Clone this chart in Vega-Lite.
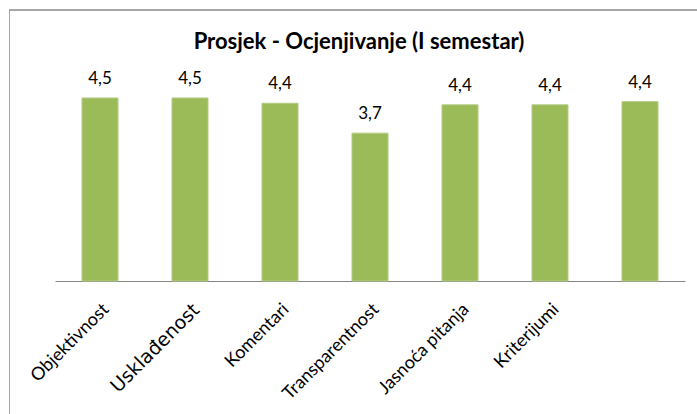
{
  "$schema": "https://vega.github.io/schema/vega-lite/v6.json",
  "width": 688,
  "height": 404,
  "autosize": {"type": "none"},
  "padding": {"left": 9, "top": 10, "right": 0, "bottom": 0},
  "background": "white",
  "config": {
    "view": {"stroke": null},
    "font": "Lato",
    "locale": {"number": {"decimal": ",", "thousands": ".", "grouping": [3], "currency": ["", " €"]}}
  },
  "title": {
    "text": "Prosjek - Ocjenjivanje (I semestar)",
    "font": "Lato",
    "fontSize": 22,
    "fontWeight": "bold",
    "color": "#000000",
    "anchor": "middle",
    "baseline": "alphabetic",
    "offset": -61,
    "dx": 6
  },
  "data": {
    "values": [
      {"kategorija": "Objektivnost", "prosjek": 4.53},
      {"kategorija": "Usklađenost", "prosjek": 4.53},
      {"kategorija": "Komentari", "prosjek": 4.40},
      {"kategorija": "Transparentnost", "prosjek": 3.66},
      {"kategorija": "Jasnoća pitanja", "prosjek": 4.36},
      {"kategorija": "Kriterijumi", "prosjek": 4.36},
      {"kategorija": " ", "prosjek": 4.44}
    ]
  },
  "layer": [
    {
      "mark": {"type": "bar", "color": "#9BBB59", "stroke": "#B3CB84", "strokeWidth": 1},
      "encoding": {
        "x": {
          "field": "kategorija",
          "type": "nominal",
          "sort": null,
          "scale": {"range": [46, 676], "paddingInner": 0.6, "paddingOuter": 0.3},
          "axis": {
            "title": null,
            "labelAngle": -45,
            "labelAlign": "right",
            "labelBaseline": "top",
            "labelPadding": 19,
            "labelOffset": 0,
            "ticks": false,
            "domainColor": "#868686",
            "domainWidth": 1,
            "offset": -133,
            "labelColor": "#000000",
            "labelFont": {"condition": {"test": "datum.value === 'Usklađenost'", "value": "DejaVu Sans"}, "value": "Lato"},
            "labelFontSize": {"condition": {"test": "datum.value === 'Usklađenost'", "value": 19}, "value": 18}
          }
        },
        "y": {
          "field": "prosjek",
          "type": "quantitative",
          "scale": {"domain": [-3.292, 6.708], "nice": false},
          "axis": {"title": null, "labels": false, "ticks": false, "grid": false, "domainColor": "#A6A6A6", "domainWidth": 1}
        }
      }
    },
    {
      "mark": {"type": "text", "dy": -14, "baseline": "alphabetic", "fontSize": 17, "color": "#000000", "font": "Lato"},
      "encoding": {
        "x": {"field": "kategorija", "type": "nominal", "sort": null},
        "y": {"field": "prosjek", "type": "quantitative"},
        "text": {"field": "prosjek", "type": "quantitative", "format": ".1f"}
      }
    },
    {
      "mark": {"type": "rule", "color": "#A6A6A6", "strokeWidth": 1},
      "encoding": {"y": {"datum": 6.708}}
    }
  ]
}
